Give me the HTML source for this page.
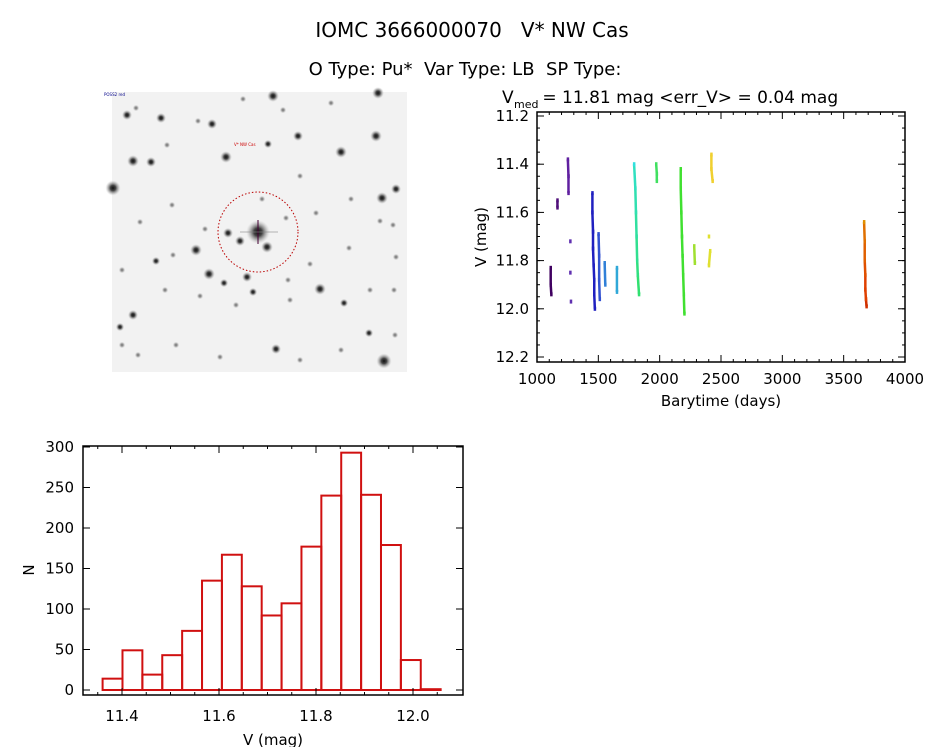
<!DOCTYPE html>
<html><head><meta charset="utf-8"><style>
body{margin:0;background:#fff;width:944px;height:747px;overflow:hidden;font-family:"DejaVu Sans","Liberation Sans",sans-serif}
svg{position:absolute;left:0;top:0}
text{white-space:pre}
</style></head><body>
<svg width="944" height="747" id="fig">
<defs><radialGradient id="sg"><stop offset="0" stop-color="#111"/><stop offset="0.35" stop-color="#444"/><stop offset="0.7" stop-color="#999" stop-opacity="0.6"/><stop offset="1" stop-color="#ccc" stop-opacity="0"/></radialGradient></defs>
<text x="472" y="37" text-anchor="middle" font-size="20">IOMC 3666000070   V* NW Cas</text>
<text x="465" y="75" text-anchor="middle" font-size="18">O Type: Pu*  Var Type: LB  SP Type:</text>
<g id="sky">
<rect x="112" y="92" width="295" height="280" fill="#f2f2f2"/>
<circle cx="258" cy="232" r="40" fill="none" stroke="#b00" stroke-width="1" stroke-dasharray="1.5,2"/>
<text x="234" y="146" font-size="4" fill="#c00">V* NW Cas</text>
<text x="104" y="96" font-size="4" fill="#008">POSS2 red</text>
</g>
<g id="lc"></g>
<g id="hist"></g>
</svg>
<script>
// ---------- data ----------
const skyStars=[[258,232,7],[228,233,3],[240,241,3],[267,247,3.5],[196,250,3.5],[209,274,3.5],[247,277,3],[320,289,3.5],[212,124,3],[226,157,3.5],[113,188,4.5],[151,162,3],[133,161,3.5],[273,96,3.5],[378,93,3.5],[376,136,3.5],[341,152,3.5],[298,136,3],[382,198,3.5],[396,189,3],[133,315,3],[276,349,3],[384,361,4.5],[127,115,3],[161,118,3],[268,144,2.5],[156,261,2.5],[253,292,2.5],[224,283,2.5],[120,327,2.5],[369,333,2.5],[344,303,2.5],[136,108,2],[198,121,2],[167,145,2],[243,99,2],[283,110,2],[331,103,2],[300,176,2],[380,221,2],[370,290,2],[349,248,2],[310,264,2],[288,280,2],[236,305,2],[200,296,2],[165,290,2],[122,270,2],[140,222,2],[172,205,2],[205,229,2],[286,218,2],[316,213,2],[351,199,2],[394,290,2],[395,335,2],[341,350,2],[300,360,2],[220,357,2],[176,345,2],[138,355,2],[122,345,2],[393,225,2],[396,257,2],[173,255,2],[290,300,2],[262,199,2]];
const lcX=[1110,1110,1115,1165,1165,1250,1255,1255,1270,1270,1275,1450,1450,1455,1455,1460,1465,1465,1470,1500,1505,1505,1510,1550,1555,1650,1650,1790,1800,1805,1810,1815,1820,1830,1970,1975,1975,2170,2170,2175,2180,2185,2190,2195,2200,2280,2285,2400,2400,2410,2420,2420,2430,3665,3670,3670,3675,3675,3680,3685];
const lcY=[11.83,11.90,11.94,11.55,11.58,11.38,11.45,11.52,11.72,11.85,11.97,11.52,11.60,11.68,11.75,11.82,11.88,11.94,12.00,11.69,11.78,11.88,11.96,11.81,11.90,11.83,11.93,11.40,11.50,11.60,11.70,11.80,11.86,11.94,11.40,11.44,11.47,11.42,11.50,11.60,11.70,11.78,11.86,11.94,12.02,11.74,11.81,11.70,11.82,11.76,11.36,11.42,11.47,11.64,11.72,11.80,11.86,11.92,11.96,11.99];
const lcC=["#400060","#400060","#400060","#50107a","#50107a","#6020a0","#6020a0","#6020a0","#6030b0","#6030b0","#6030b0","#2020c0","#2020c0","#2020c0","#2020c0","#2020c0","#2020c0","#2020c0","#2020c0","#3050d0","#3050d0","#3050d0","#3050d0","#3080d8","#3080d8","#30a8d8","#30a8d8","#30e0e0","#30e0c0","#30e0b0","#30e0a0","#30e090","#30e080","#30e070","#40e060","#40e060","#40e060","#40e030","#40e030","#40e030","#40e030","#40e030","#40e030","#40e030","#40e030","#a0e030","#a0e030","#e0e030","#e0e030","#e0e030","#f0d030","#f0d030","#f0d030","#e09000","#e07000","#e06000","#e05000","#e04000","#e04000","#d03000"];
const lcXTicks=[1000,1500,2000,2500,3000,3500,4000];
const lcYTicks=[11.2,11.4,11.6,11.8,12.0,12.2];
const binStart=11.36, binWidth=0.041;
const counts=[14,49,19,43,73,135,167,128,92,107,177,240,293,241,179,37,1];
const hXTicks=[11.4,11.6,11.8,12.0];
const hYTicks=[0,50,100,150,200,250,300];
// ---------- helpers ----------
const NS="http://www.w3.org/2000/svg";
function mk(p,t,a,txt){const e=document.createElementNS(NS,t);for(const k in a)e.setAttribute(k,a[k]);if(txt!==undefined)e.textContent=txt;p.appendChild(e);return e;}
// sky stars
const sky=document.getElementById('sky');
skyStars.forEach(s=>{const c=mk(sky,'circle',{cx:s[0],cy:s[1],r:s[2]*1.7,fill:'url(#sg)',opacity:s[2]<2.5?0.55:1});

});
mk(sky,'line',{x1:258,y1:220,x2:258,y2:244,stroke:'#403',"stroke-width":1});
mk(sky,'line',{x1:240,y1:232,x2:278,y2:232,stroke:'#888',"stroke-width":1,opacity:0.6});
// ---------- light curve ----------
const lc=document.getElementById('lc');
const L={x0:537,x1:905,y0:112,y1:362};
const lx=v=>L.x0+(v-1000)/3000*(L.x1-L.x0);
const ly=v=>116+(v-11.2)/1.0*(357-116);
mk(lc,'text',{x:502,y:103,"font-size":17},'V');
mk(lc,'text',{x:514,y:108,"font-size":11},'med');
mk(lc,'text',{x:537,y:103,"font-size":17},' = 11.81 mag <err_V> = 0.04 mag');
for(let i=1;i<lcX.length;i++){if(Math.abs(lcX[i]-lcX[i-1])<=15&&Math.abs(lcY[i]-lcY[i-1])<0.11){mk(lc,'line',{x1:lx(lcX[i-1])+0.2,y1:ly(lcY[i-1]),x2:lx(lcX[i])+0.2,y2:ly(lcY[i]),stroke:lcC[i],"stroke-width":2.5});}}
lcX.forEach((t,i)=>{const r=mk(lc,'rect',{x:lx(t)-1,y:ly(lcY[i])-2,width:2.5,height:4,fill:lcC[i]});

});
mk(lc,'rect',{x:L.x0,y:L.y0,width:L.x1-L.x0,height:L.y1-L.y0,fill:'none',stroke:'#000',"stroke-width":1.5});
lcXTicks.forEach(t=>{const x=lx(t);mk(lc,'line',{x1:x,y1:L.y1,x2:x,y2:L.y1-7,stroke:'#000'});mk(lc,'line',{x1:x,y1:L.y0,x2:x,y2:L.y0+7,stroke:'#000'});
const tx=mk(lc,'text',{x:x,y:L.y1+22,"text-anchor":"middle","font-size":15},t);

});
for(let t=1100;t<4000;t+=100){if(t%500){const x=lx(t);mk(lc,'line',{x1:x,y1:L.y1,x2:x,y2:L.y1-3,stroke:'#000'});mk(lc,'line',{x1:x,y1:L.y0,x2:x,y2:L.y0+3,stroke:'#000'});}}
lcYTicks.forEach(t=>{const y=ly(t);mk(lc,'line',{x1:L.x0,y1:y,x2:L.x0+7,y2:y,stroke:'#000'});mk(lc,'line',{x1:L.x1,y1:y,x2:L.x1-7,y2:y,stroke:'#000'});
const tx=mk(lc,'text',{x:L.x0-8,y:y+5,"text-anchor":"end","font-size":15},t.toFixed(1));

});
for(let t=11.2;t<12.21;t+=0.05){const y=ly(t);mk(lc,'line',{x1:L.x0,y1:y,x2:L.x0+3,y2:y,stroke:'#000'});mk(lc,'line',{x1:L.x1,y1:y,x2:L.x1-3,y2:y,stroke:'#000'});}
mk(lc,'text',{x:721,y:406,"text-anchor":"middle","font-size":15},'Barytime (days)');
mk(lc,'text',{x:0,y:0,"text-anchor":"middle","font-size":15,transform:'translate(486,237) rotate(-90)'},'V (mag)');
// ---------- histogram ----------
const h=document.getElementById('hist');
const H={x0:83,x1:463,y0:446,y1:695};
const hx=v=>122+(v-11.4)/0.6*(413-122);
const hy=v=>690-v/300*(690-447);
counts.forEach((c,i)=>{const a=hx(binStart+i*binWidth),b=hx(binStart+(i+1)*binWidth);
const r=mk(h,'rect',{x:a,y:hy(c),width:b-a,height:hy(0)-hy(c),fill:'none',stroke:'#d01010',"stroke-width":2});

});
mk(h,'rect',{x:H.x0,y:H.y0,width:H.x1-H.x0,height:H.y1-H.y0,fill:'none',stroke:'#000',"stroke-width":1.5});
hXTicks.forEach(t=>{const x=hx(t);mk(h,'line',{x1:x,y1:H.y1,x2:x,y2:H.y1-7,stroke:'#000'});mk(h,'line',{x1:x,y1:H.y0,x2:x,y2:H.y0+7,stroke:'#000'});
const tx=mk(h,'text',{x:x,y:H.y1+26,"text-anchor":"middle","font-size":15},t.toFixed(1));

});
for(let t=11.35;t<12.1;t+=0.05){const x=hx(t);mk(h,'line',{x1:x,y1:H.y1,x2:x,y2:H.y1-3,stroke:'#000'});mk(h,'line',{x1:x,y1:H.y0,x2:x,y2:H.y0+3,stroke:'#000'});}
hYTicks.forEach(t=>{const y=hy(t);mk(h,'line',{x1:H.x0,y1:y,x2:H.x0+7,y2:y,stroke:'#000'});mk(h,'line',{x1:H.x1,y1:y,x2:H.x1-7,y2:y,stroke:'#000'});
const tx=mk(h,'text',{x:H.x0-9,y:y+5,"text-anchor":"end","font-size":15},t);

});
mk(h,'text',{x:273,y:745,"text-anchor":"middle","font-size":15},'V (mag)');
mk(h,'text',{x:0,y:0,"text-anchor":"middle","font-size":15,transform:'translate(34,570) rotate(-90)'},'N');
</script>
</body></html>
